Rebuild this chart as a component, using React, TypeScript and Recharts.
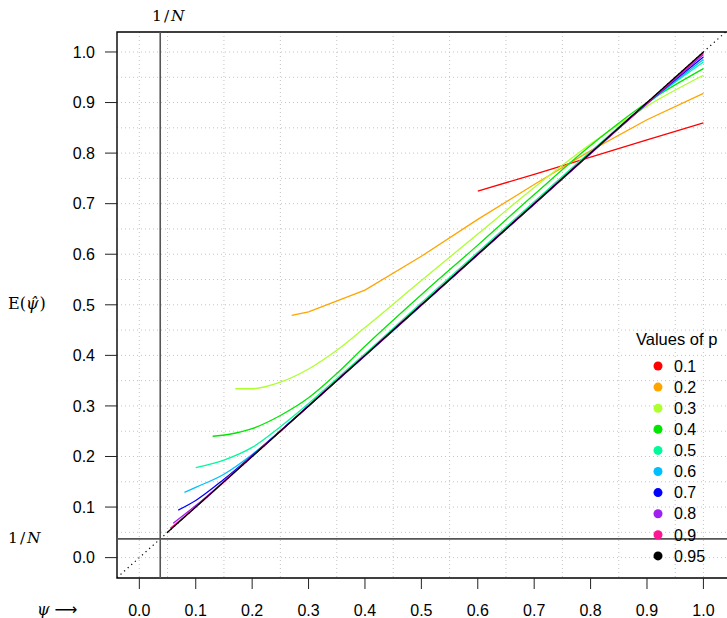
import { LineChart, Line, XAxis, YAxis, CartesianGrid, ReferenceLine, ReferenceArea } from "recharts";

// Valeurs : E(psi chapeau) en fonction de psi, une courbe par p
const pValues = ["0.1", "0.2", "0.3", "0.4", "0.5", "0.6", "0.7", "0.8", "0.9", "0.95"];
const pColors = ["#FF0000", "#FFA500", "#ADFF2F", "#00E600", "#00FA9A", "#00BFFF", "#0000FF", "#A020F0", "#FF1493", "#000000"];

const psiP01 = [0.6, 0.7, 0.8, 0.9, 1.0];
const eP01 = [0.725, 0.758, 0.792, 0.826, 0.86];

const psiP02 = [0.27, 0.3, 0.4, 0.5, 0.6, 0.7, 0.8, 0.9, 1.0];
const eP02 = [0.479, 0.486, 0.529, 0.596, 0.669, 0.738, 0.805, 0.866, 0.918];

const psiP03 = [0.17, 0.2, 0.25, 0.3, 0.35, 0.4, 0.5, 0.6, 0.7, 0.8, 0.9, 1.0];
const eP03 = [0.334, 0.334, 0.347, 0.373, 0.41, 0.455, 0.548, 0.64, 0.732, 0.818, 0.893, 0.954];

const psiP04 = [0.13, 0.16, 0.2, 0.25, 0.3, 0.35, 0.4, 0.5, 0.6, 0.7, 0.8, 0.9, 1.0];
const eP04 = [0.24, 0.244, 0.255, 0.281, 0.316, 0.364, 0.418, 0.52, 0.618, 0.718, 0.815, 0.9, 0.967];

const psiP05 = [0.1, 0.15, 0.2, 0.25, 0.3, 0.35, 0.4, 0.5, 0.6, 0.7, 0.8, 0.9, 1.0];
const eP05 = [0.178, 0.193, 0.218, 0.259, 0.305, 0.354, 0.403, 0.504, 0.604, 0.704, 0.803, 0.898, 0.98];

const psiP06 = [0.08, 0.1, 0.15, 0.2, 0.25, 0.3, 0.4, 0.5, 0.6, 0.7, 0.8, 0.9, 1.0];
const eP06 = [0.129, 0.139, 0.165, 0.204, 0.251, 0.301, 0.399, 0.499, 0.6, 0.7, 0.8, 0.897, 0.985];

const psiP07 = [0.069, 0.1, 0.15, 0.2, 0.3, 0.4, 0.5, 0.6, 0.7, 0.8, 0.9, 1.0];
const eP07 = [0.094, 0.113, 0.155, 0.202, 0.3, 0.399, 0.499, 0.599, 0.699, 0.799, 0.898, 0.99];

const psiP08 = [0.06, 0.1, 0.2, 0.3, 0.4, 0.5, 0.6, 0.7, 0.8, 0.9, 1.0];
const eP08 = [0.068, 0.103, 0.201, 0.3, 0.4, 0.5, 0.6, 0.7, 0.799, 0.898, 0.995];

const psiP09 = [0.055, 0.1, 0.2, 0.3, 0.4, 0.5, 0.6, 0.7, 0.8, 0.9, 1.0];
const eP09 = [0.058, 0.1, 0.2, 0.3, 0.4, 0.5, 0.6, 0.7, 0.8, 0.899, 0.998];

const psiP095 = [0.049, 0.1, 0.2, 0.3, 0.4, 0.5, 0.6, 0.7, 0.8, 0.9, 1.0];
const eP095 = [0.049, 0.1, 0.2, 0.3, 0.4, 0.5, 0.6, 0.7, 0.8, 0.9, 1.0];

const psiSeries = [psiP01, psiP02, psiP03, psiP04, psiP05, psiP06, psiP07, psiP08, psiP09, psiP095];
const eSeries = [eP01, eP02, eP03, eP04, eP05, eP06, eP07, eP08, eP09, eP095];

const invN = 1 / 27;
const axisTicks = [0, 0.1, 0.2, 0.3, 0.4, 0.5, 0.6, 0.7, 0.8, 0.9, 1.0];
const gridValues = [0, 0.05, 0.1, 0.15, 0.2, 0.25, 0.3, 0.35, 0.4, 0.45, 0.5, 0.55, 0.6, 0.65, 0.7, 0.75, 0.8, 0.85, 0.9, 0.95, 1.0];

const X_DOMAIN: [number, number] = [-0.0396, 1.0436];
const Y_DOMAIN: [number, number] = [-0.0403, 1.0395];

const SANS = "'Liberation Sans', Arial, sans-serif";
const SERIF = "'DejaVu Serif', 'Liberation Serif', serif";

const series = pValues.map((p, i) => ({
  p,
  color: pColors[i],
  points: psiSeries[i].map((x, j) => ({ x, y: eSeries[i][j] })),
}));

function XTick({ x, payload }: any) {
  return (
    <text x={x} y={616} textAnchor="middle" fontFamily={SANS} fontSize={16} fill="#000">
      {payload.value.toFixed(1)}
    </text>
  );
}

function YTick({ y, payload }: any) {
  return (
    <text x={95} y={y} dy="0.36em" textAnchor="end" fontFamily={SANS} fontSize={16} fill="#000">
      {payload.value.toFixed(1)}
    </text>
  );
}

function OneOverN({ x, y }: { x: number; y: number }) {
  return (
    <text x={x} y={y} fontFamily={SERIF} fontSize={15.5} fill="#000">
      <tspan>1</tspan>
      <tspan dx={2}>/</tspan>
      <tspan dx={2} fontStyle="italic">N</tspan>
    </text>
  );
}

export default function App() {
  return (
    <div style={{ position: "absolute", left: 0, top: 0, width: 727, height: 618, overflow: "hidden", background: "#fff" }}>
      <LineChart width={728} height={618} margin={{ top: 32, right: 0, bottom: 0, left: 0 }}>
        <CartesianGrid
          horizontalValues={gridValues}
          verticalValues={gridValues}
          stroke="#c4c4c4"
          strokeDasharray="1 3"
        />
        <XAxis
          type="number"
          dataKey="x"
          domain={X_DOMAIN}
          ticks={axisTicks}
          allowDataOverflow
          height={40}
          tickSize={11}
          axisLine={false}
          tickLine={{ stroke: "#222" }}
          tick={<XTick />}
        />
        <YAxis
          type="number"
          dataKey="y"
          domain={Y_DOMAIN}
          ticks={axisTicks}
          allowDataOverflow
          width={117}
          tickSize={12}
          axisLine={false}
          tickLine={{ stroke: "#222" }}
          tick={<YTick />}
        />
        <ReferenceLine
          segment={[{ x: X_DOMAIN[0], y: X_DOMAIN[0] }, { x: Y_DOMAIN[1], y: Y_DOMAIN[1] }]}
          stroke="#000"
          strokeDasharray="1.2 3.6"
          strokeWidth={1.2}
          ifOverflow="visible"
        />
        {series.map((s) => (
          <Line
            key={s.p}
            data={s.points}
            dataKey="y"
            type={s.p === "0.1" || s.p === "0.2" ? "linear" : "monotone"}
            stroke={s.color}
            strokeWidth={1.3}
            dot={false}
            activeDot={false}
            isAnimationActive={false}
          />
        ))}
        <ReferenceLine x={invN} stroke="#555" strokeWidth={1.6} />
        <ReferenceLine y={invN} stroke="#555" strokeWidth={1.6} />
        <ReferenceArea
          x1={X_DOMAIN[0]}
          x2={X_DOMAIN[1]}
          y1={Y_DOMAIN[0]}
          y2={Y_DOMAIN[1]}
          fill="none"
          stroke="#000"
          strokeWidth={1.4}
          ifOverflow="visible"
        />
      </LineChart>
      <svg width={727} height={618} style={{ position: "absolute", left: 0, top: 0, pointerEvents: "none" }}>
        <OneOverN x={152} y={21} />
        <OneOverN x={8} y={543} />
        <text x={8} y={309} fontFamily={SERIF} fontSize={16} fill="#000">
          <tspan>E(</tspan>
          <tspan fontStyle="italic">{"\u03C8\u0302"}</tspan>
          <tspan dx={1}>)</tspan>
        </text>
        <text x={37} y={615} fontFamily={SERIF} fontSize={16} fill="#000">
          <tspan fontStyle="italic">{"\u03C8"}</tspan>
          <tspan dx={5} fontFamily="'DejaVu Sans', sans-serif">{"\u27F6"}</tspan>
        </text>
        <text x={636} y={345} fontFamily={SANS} fontSize={16.5} fill="#000">
          Values of p
        </text>
        {series.map((s, i) => (
          <g key={s.p}>
            <circle cx={658} cy={366 + i * 21.1} r={4.5} fill={s.color} />
            <text x={674} y={366 + i * 21.1} dy="0.36em" fontFamily={SANS} fontSize={16} fill="#000">
              {s.p}
            </text>
          </g>
        ))}
      </svg>
    </div>
  );
}
